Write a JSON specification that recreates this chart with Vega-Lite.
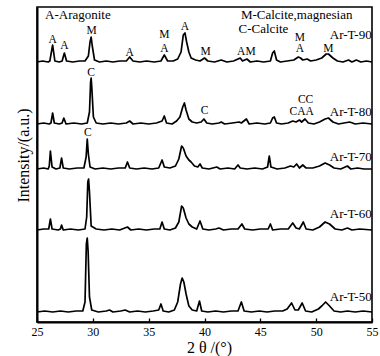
{
  "$schema": "https://vega.github.io/schema/vega-lite/v6.json",
  "width": 335,
  "height": 315,
  "autosize": {"type": "none"},
  "padding": {"left": 37, "top": 7, "right": 8, "bottom": 34},
  "background": "white",
  "config": {
    "view": {"stroke": "black", "strokeWidth": 1.6},
    "font": "Liberation Serif, Times New Roman, serif"
  },
  "datasets": {
    "curves": [
      {"s":"90","x":25.0,"y":260},{"s":"90","x":25.5,"y":261},{"s":"90","x":26.0,"y":260},{"s":"90","x":26.15,"y":261},{"s":"90","x":26.4,"y":277},{"s":"90","x":26.6,"y":261},{"s":"90","x":27.0,"y":260},{"s":"90","x":27.25,"y":261},{"s":"90","x":27.45,"y":269},{"s":"90","x":27.65,"y":261},{"s":"90","x":28.2,"y":260},{"s":"90","x":28.8,"y":261},{"s":"90","x":29.3,"y":261},{"s":"90","x":29.6,"y":266},{"s":"90","x":29.75,"y":280},{"s":"90","x":29.85,"y":285},{"s":"90","x":29.95,"y":276},{"s":"90","x":30.15,"y":262},{"s":"90","x":30.6,"y":260},{"s":"90","x":31.2,"y":261},{"s":"90","x":31.8,"y":260},{"s":"90","x":32.4,"y":261},{"s":"90","x":33.0,"y":261},{"s":"90","x":33.3,"y":265},{"s":"90","x":33.6,"y":261},{"s":"90","x":34.2,"y":260},{"s":"90","x":34.8,"y":261},{"s":"90","x":35.5,"y":260},{"s":"90","x":36.1,"y":261},{"s":"90","x":36.4,"y":267},{"s":"90","x":36.7,"y":261},{"s":"90","x":37.2,"y":261},{"s":"90","x":37.6,"y":263},{"s":"90","x":37.9,"y":270},{"s":"90","x":38.1,"y":287},{"s":"90","x":38.25,"y":289},{"s":"90","x":38.4,"y":280},{"s":"90","x":38.6,"y":270},{"s":"90","x":38.8,"y":264},{"s":"90","x":39.2,"y":262},{"s":"90","x":39.6,"y":261},{"s":"90","x":40.0,"y":264},{"s":"90","x":40.3,"y":261},{"s":"90","x":40.9,"y":260},{"s":"90","x":41.5,"y":262},{"s":"90","x":42.0,"y":260},{"s":"90","x":42.6,"y":261},{"s":"90","x":43.2,"y":264},{"s":"90","x":43.4,"y":261},{"s":"90","x":43.8,"y":263},{"s":"90","x":44.1,"y":260},{"s":"90","x":44.7,"y":261},{"s":"90","x":45.3,"y":260},{"s":"90","x":45.9,"y":261},{"s":"90","x":46.1,"y":269},{"s":"90","x":46.25,"y":271},{"s":"90","x":46.45,"y":262},{"s":"90","x":46.8,"y":260},{"s":"90","x":47.4,"y":261},{"s":"90","x":48.0,"y":262},{"s":"90","x":48.4,"y":265},{"s":"90","x":48.6,"y":264},{"s":"90","x":48.8,"y":262},{"s":"90","x":49.2,"y":263},{"s":"90","x":49.5,"y":261},{"s":"90","x":50.0,"y":262},{"s":"90","x":50.5,"y":264},{"s":"90","x":50.9,"y":268},{"s":"90","x":51.1,"y":268},{"s":"90","x":51.5,"y":264},{"s":"90","x":51.9,"y":261},{"s":"90","x":52.4,"y":260},{"s":"90","x":52.9,"y":262},{"s":"90","x":53.2,"y":260},{"s":"90","x":53.6,"y":262},{"s":"90","x":54.0,"y":260},{"s":"90","x":54.5,"y":261},{"s":"90","x":55.0,"y":260},

      {"s":"80","x":25.0,"y":198},{"s":"80","x":25.6,"y":199},{"s":"80","x":26.1,"y":198},{"s":"80","x":26.25,"y":199},{"s":"80","x":26.4,"y":209},{"s":"80","x":26.55,"y":199},{"s":"80","x":27.0,"y":198},{"s":"80","x":27.25,"y":199},{"s":"80","x":27.4,"y":204},{"s":"80","x":27.6,"y":198},{"s":"80","x":28.3,"y":199},{"s":"80","x":29.0,"y":198},{"s":"80","x":29.5,"y":199},{"s":"80","x":29.7,"y":210},{"s":"80","x":29.8,"y":240},{"s":"80","x":29.85,"y":244},{"s":"80","x":29.9,"y":236},{"s":"80","x":30.05,"y":205},{"s":"80","x":30.3,"y":199},{"s":"80","x":30.9,"y":198},{"s":"80","x":31.6,"y":199},{"s":"80","x":32.3,"y":198},{"s":"80","x":33.0,"y":199},{"s":"80","x":33.3,"y":201},{"s":"80","x":33.6,"y":198},{"s":"80","x":34.3,"y":199},{"s":"80","x":35.0,"y":198},{"s":"80","x":35.7,"y":199},{"s":"80","x":36.2,"y":201},{"s":"80","x":36.4,"y":206},{"s":"80","x":36.6,"y":199},{"s":"80","x":37.1,"y":198},{"s":"80","x":37.5,"y":201},{"s":"80","x":37.8,"y":205},{"s":"80","x":38.05,"y":215},{"s":"80","x":38.2,"y":219},{"s":"80","x":38.35,"y":212},{"s":"80","x":38.6,"y":203},{"s":"80","x":38.9,"y":200},{"s":"80","x":39.3,"y":199},{"s":"80","x":39.7,"y":200},{"s":"80","x":39.95,"y":203},{"s":"80","x":40.2,"y":199},{"s":"80","x":40.7,"y":198},{"s":"80","x":41.3,"y":199},{"s":"80","x":41.5,"y":200},{"s":"80","x":41.8,"y":198},{"s":"80","x":42.5,"y":199},{"s":"80","x":43.1,"y":200},{"s":"80","x":43.3,"y":199},{"s":"80","x":43.75,"y":203},{"s":"80","x":44.0,"y":198},{"s":"80","x":44.7,"y":199},{"s":"80","x":45.4,"y":198},{"s":"80","x":45.9,"y":199},{"s":"80","x":46.1,"y":204},{"s":"80","x":46.25,"y":205},{"s":"80","x":46.45,"y":199},{"s":"80","x":46.9,"y":198},{"s":"80","x":47.5,"y":199},{"s":"80","x":47.9,"y":201},{"s":"80","x":48.2,"y":200},{"s":"80","x":48.5,"y":202},{"s":"80","x":48.7,"y":200},{"s":"80","x":49.0,"y":203},{"s":"80","x":49.3,"y":199},{"s":"80","x":49.8,"y":198},{"s":"80","x":50.3,"y":200},{"s":"80","x":50.8,"y":203},{"s":"80","x":51.1,"y":204},{"s":"80","x":51.5,"y":200},{"s":"80","x":52.0,"y":198},{"s":"80","x":52.5,"y":199},{"s":"80","x":53.0,"y":200},{"s":"80","x":53.5,"y":198},{"s":"80","x":54.2,"y":199},{"s":"80","x":55.0,"y":198},

      {"s":"70","x":25.0,"y":153},{"s":"70","x":25.6,"y":154},{"s":"70","x":26.0,"y":153},{"s":"70","x":26.1,"y":156},{"s":"70","x":26.2,"y":171},{"s":"70","x":26.35,"y":155},{"s":"70","x":26.7,"y":153},{"s":"70","x":27.05,"y":154},{"s":"70","x":27.2,"y":164},{"s":"70","x":27.35,"y":154},{"s":"70","x":27.9,"y":153},{"s":"70","x":28.6,"y":154},{"s":"70","x":29.2,"y":154},{"s":"70","x":29.4,"y":165},{"s":"70","x":29.5,"y":183},{"s":"70","x":29.6,"y":168},{"s":"70","x":29.75,"y":155},{"s":"70","x":30.2,"y":153},{"s":"70","x":30.9,"y":154},{"s":"70","x":31.6,"y":153},{"s":"70","x":32.3,"y":154},{"s":"70","x":32.9,"y":154},{"s":"70","x":33.1,"y":160},{"s":"70","x":33.3,"y":154},{"s":"70","x":33.9,"y":153},{"s":"70","x":34.6,"y":154},{"s":"70","x":35.3,"y":153},{"s":"70","x":35.9,"y":154},{"s":"70","x":36.2,"y":162},{"s":"70","x":36.4,"y":155},{"s":"70","x":36.9,"y":154},{"s":"70","x":37.4,"y":156},{"s":"70","x":37.7,"y":163},{"s":"70","x":37.95,"y":176},{"s":"70","x":38.1,"y":174},{"s":"70","x":38.35,"y":166},{"s":"70","x":38.6,"y":162},{"s":"70","x":38.8,"y":160},{"s":"70","x":39.1,"y":156},{"s":"70","x":39.4,"y":155},{"s":"70","x":39.6,"y":158},{"s":"70","x":39.8,"y":154},{"s":"70","x":40.4,"y":153},{"s":"70","x":41.1,"y":155},{"s":"70","x":41.4,"y":153},{"s":"70","x":42.1,"y":154},{"s":"70","x":42.7,"y":153},{"s":"70","x":43.0,"y":157},{"s":"70","x":43.2,"y":154},{"s":"70","x":43.8,"y":153},{"s":"70","x":44.5,"y":154},{"s":"70","x":45.2,"y":153},{"s":"70","x":45.65,"y":155},{"s":"70","x":45.8,"y":166},{"s":"70","x":45.95,"y":155},{"s":"70","x":46.5,"y":153},{"s":"70","x":47.2,"y":154},{"s":"70","x":47.7,"y":156},{"s":"70","x":48.0,"y":155},{"s":"70","x":48.25,"y":158},{"s":"70","x":48.5,"y":154},{"s":"70","x":48.8,"y":157},{"s":"70","x":49.1,"y":154},{"s":"70","x":49.7,"y":154},{"s":"70","x":50.3,"y":156},{"s":"70","x":50.8,"y":159},{"s":"70","x":51.2,"y":157},{"s":"70","x":51.6,"y":154},{"s":"70","x":52.2,"y":153},{"s":"70","x":52.8,"y":156},{"s":"70","x":53.1,"y":153},{"s":"70","x":53.7,"y":154},{"s":"70","x":54.3,"y":153},{"s":"70","x":55.0,"y":153},

      {"s":"60","x":25.0,"y":92},{"s":"60","x":25.6,"y":93},{"s":"60","x":26.05,"y":93},{"s":"60","x":26.2,"y":103},{"s":"60","x":26.35,"y":93},{"s":"60","x":26.9,"y":92},{"s":"60","x":27.1,"y":93},{"s":"60","x":27.2,"y":97},{"s":"60","x":27.35,"y":92},{"s":"60","x":28.0,"y":93},{"s":"60","x":28.7,"y":92},{"s":"60","x":29.3,"y":93},{"s":"60","x":29.45,"y":105},{"s":"60","x":29.55,"y":140},{"s":"60","x":29.62,"y":143},{"s":"60","x":29.7,"y":130},{"s":"60","x":29.85,"y":96},{"s":"60","x":30.3,"y":93},{"s":"60","x":31.0,"y":92},{"s":"60","x":31.7,"y":93},{"s":"60","x":32.4,"y":92},{"s":"60","x":33.1,"y":95},{"s":"60","x":33.4,"y":92},{"s":"60","x":34.1,"y":93},{"s":"60","x":34.8,"y":92},{"s":"60","x":35.5,"y":93},{"s":"60","x":36.0,"y":93},{"s":"60","x":36.2,"y":100},{"s":"60","x":36.4,"y":93},{"s":"60","x":36.9,"y":92},{"s":"60","x":37.4,"y":94},{"s":"60","x":37.7,"y":100},{"s":"60","x":37.95,"y":116},{"s":"60","x":38.1,"y":114},{"s":"60","x":38.35,"y":104},{"s":"60","x":38.6,"y":98},{"s":"60","x":38.9,"y":95},{"s":"60","x":39.3,"y":93},{"s":"60","x":39.6,"y":101},{"s":"60","x":39.85,"y":93},{"s":"60","x":40.4,"y":92},{"s":"60","x":41.0,"y":93},{"s":"60","x":41.3,"y":94},{"s":"60","x":41.7,"y":92},{"s":"60","x":42.4,"y":93},{"s":"60","x":43.0,"y":93},{"s":"60","x":43.35,"y":98},{"s":"60","x":43.6,"y":93},{"s":"60","x":44.3,"y":92},{"s":"60","x":45.0,"y":93},{"s":"60","x":45.7,"y":93},{"s":"60","x":45.9,"y":98},{"s":"60","x":46.1,"y":92},{"s":"60","x":46.8,"y":93},{"s":"60","x":47.5,"y":93},{"s":"60","x":47.9,"y":99},{"s":"60","x":48.2,"y":94},{"s":"60","x":48.5,"y":93},{"s":"60","x":48.85,"y":100},{"s":"60","x":49.1,"y":93},{"s":"60","x":49.7,"y":92},{"s":"60","x":50.3,"y":95},{"s":"60","x":50.8,"y":100},{"s":"60","x":51.2,"y":98},{"s":"60","x":51.7,"y":93},{"s":"60","x":52.3,"y":92},{"s":"60","x":52.8,"y":94},{"s":"60","x":53.2,"y":92},{"s":"60","x":53.9,"y":93},{"s":"60","x":55.0,"y":92},

      {"s":"50","x":25.0,"y":10},{"s":"50","x":25.7,"y":11},{"s":"50","x":26.4,"y":10},{"s":"50","x":27.1,"y":11},{"s":"50","x":27.8,"y":10},{"s":"50","x":28.5,"y":11},{"s":"50","x":29.1,"y":11},{"s":"50","x":29.3,"y":20},{"s":"50","x":29.42,"y":78},{"s":"50","x":29.5,"y":84},{"s":"50","x":29.58,"y":70},{"s":"50","x":29.7,"y":25},{"s":"50","x":29.9,"y":12},{"s":"50","x":30.5,"y":10},{"s":"50","x":31.2,"y":11},{"s":"50","x":31.5,"y":12},{"s":"50","x":31.8,"y":10},{"s":"50","x":32.5,"y":11},{"s":"50","x":32.9,"y":12},{"s":"50","x":33.3,"y":10},{"s":"50","x":34.0,"y":11},{"s":"50","x":34.7,"y":10},{"s":"50","x":35.4,"y":11},{"s":"50","x":35.9,"y":12},{"s":"50","x":36.1,"y":18},{"s":"50","x":36.3,"y":11},{"s":"50","x":36.8,"y":10},{"s":"50","x":37.3,"y":12},{"s":"50","x":37.6,"y":20},{"s":"50","x":37.85,"y":38},{"s":"50","x":38.0,"y":44},{"s":"50","x":38.15,"y":40},{"s":"50","x":38.35,"y":28},{"s":"50","x":38.6,"y":16},{"s":"50","x":38.9,"y":12},{"s":"50","x":39.3,"y":11},{"s":"50","x":39.55,"y":21},{"s":"50","x":39.75,"y":11},{"s":"50","x":40.3,"y":10},{"s":"50","x":41.0,"y":11},{"s":"50","x":41.7,"y":10},{"s":"50","x":42.4,"y":11},{"s":"50","x":43.0,"y":11},{"s":"50","x":43.3,"y":20},{"s":"50","x":43.55,"y":11},{"s":"50","x":44.2,"y":10},{"s":"50","x":44.9,"y":11},{"s":"50","x":45.6,"y":10},{"s":"50","x":46.3,"y":11},{"s":"50","x":47.0,"y":11},{"s":"50","x":47.4,"y":13},{"s":"50","x":47.8,"y":19},{"s":"50","x":48.1,"y":12},{"s":"50","x":48.4,"y":12},{"s":"50","x":48.75,"y":19},{"s":"50","x":49.05,"y":11},{"s":"50","x":49.6,"y":10},{"s":"50","x":50.2,"y":13},{"s":"50","x":50.5,"y":16},{"s":"50","x":50.85,"y":20},{"s":"50","x":51.2,"y":16},{"s":"50","x":51.6,"y":11},{"s":"50","x":52.2,"y":10},{"s":"50","x":52.8,"y":11},{"s":"50","x":53.5,"y":10},{"s":"50","x":54.2,"y":11},{"s":"50","x":55.0,"y":10}
    ],
    "peaks": [
      {"x":26.4,"y":282,"t":"A"},{"x":27.45,"y":276,"t":"A"},{"x":29.9,"y":291,"t":"M"},{"x":33.3,"y":269,"t":"A"},{"x":36.4,"y":287,"t":"M"},{"x":36.4,"y":273,"t":"A"},{"x":38.25,"y":295,"t":"A"},{"x":40.1,"y":270,"t":"M"},{"x":43.75,"y":270,"t":"AM"},{"x":48.55,"y":284,"t":"M"},{"x":48.55,"y":273,"t":"A"},{"x":51.1,"y":273,"t":"M"},
      {"x":29.85,"y":249,"t":"C"},{"x":40.0,"y":211,"t":"C"},{"x":49.05,"y":222,"t":"CC"},{"x":48.7,"y":210,"t":"CAA"},
      {"x":29.55,"y":189,"t":"C"}
    ],
    "legend": [
      {"x":25.72,"y":307,"t":"A-Aragonite"},{"x":43.26,"y":307.5,"t":"M-Calcite,magnesian"},{"x":43.05,"y":293.5,"t":"C-Calcite"}
    ],
    "names": [
      {"x":54.97,"y":287,"t":"Ar-T-90"},{"x":54.97,"y":210,"t":"Ar-T-80"},{"x":54.97,"y":165,"t":"Ar-T-70"},{"x":54.97,"y":108,"t":"Ar-T-60"},{"x":54.97,"y":25,"t":"Ar-T-50"}
    ]
  },
  "layer": [
    {
      "data": {"name": "curves"},
      "mark": {"type": "line", "color": "black", "strokeWidth": 1.7, "strokeJoin": "round"},
      "encoding": {
        "x": {"field": "x", "type": "quantitative",
              "scale": {"domain": [25, 55], "nice": false, "zero": false},
              "axis": {"title": "2 θ /(°)", "titleFont": "Liberation Serif, Times New Roman, serif", "titleFontSize": 16, "titleFontWeight": "normal", "titleColor": "black",
                       "titleX": 172, "titleY": 30, "titleBaseline": "alphabetic",
                       "values": [25,27.5,30,32.5,35,37.5,40,42.5,45,47.5,50,52.5,55],
                       "labelExpr": "datum.value % 5 === 0 ? datum.label : ''",
                       "labelFont": "Liberation Serif, Times New Roman, serif", "labelFontSize": 12, "labelColor": "black",
                       "labelFlush": false, "labelPadding": 8,
                       "tickSize": -4, "tickColor": "black", "tickWidth": 1.3,
                       "domainColor": "black", "domainWidth": 1.8, "grid": false}},
        "y": {"field": "y", "type": "quantitative",
              "scale": {"domain": [0, 315], "nice": false, "zero": false},
              "axis": {"title": "Intensity/(a.u.)", "titleFont": "Liberation Serif, Times New Roman, serif", "titleFontSize": 16, "titleFontWeight": "normal", "titleColor": "black",
                       "titleX": -9, "titleY": 148, "titleBaseline": "alphabetic", "titleAngle": 270,
                       "labels": false, "ticks": false, "grid": false,
                       "domainColor": "black", "domainWidth": 2}},
        "detail": {"field": "s", "type": "nominal"}
      }
    },
    {
      "data": {"name": "peaks"},
      "mark": {"type": "text", "font": "Liberation Serif, Times New Roman, serif", "fontSize": 11.5, "color": "black", "align": "center", "baseline": "middle"},
      "encoding": {
        "x": {"field": "x", "type": "quantitative"},
        "y": {"field": "y", "type": "quantitative"},
        "text": {"field": "t", "type": "nominal"}
      }
    },
    {
      "data": {"name": "legend"},
      "mark": {"type": "text", "font": "Liberation Serif, Times New Roman, serif", "fontSize": 13, "color": "black", "align": "left", "baseline": "middle"},
      "encoding": {
        "x": {"field": "x", "type": "quantitative"},
        "y": {"field": "y", "type": "quantitative"},
        "text": {"field": "t", "type": "nominal"}
      }
    },
    {
      "data": {"name": "names"},
      "mark": {"type": "text", "font": "Liberation Serif, Times New Roman, serif", "fontSize": 13, "color": "black", "align": "right", "baseline": "middle"},
      "encoding": {
        "x": {"field": "x", "type": "quantitative"},
        "y": {"field": "y", "type": "quantitative"},
        "text": {"field": "t", "type": "nominal"}
      }
    }
  ]
}
